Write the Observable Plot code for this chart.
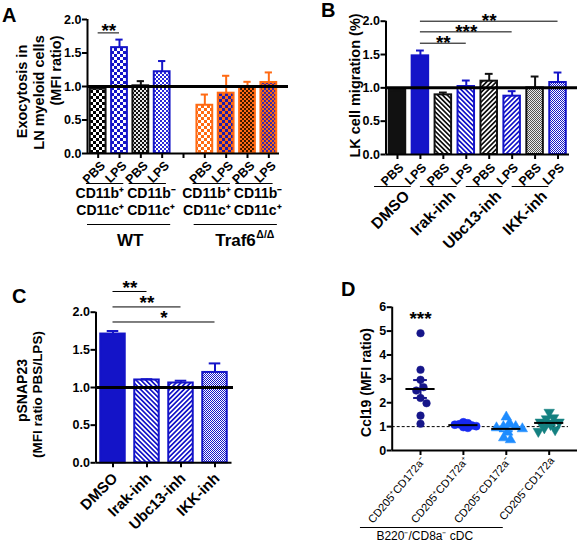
<!DOCTYPE html>
<html><head><meta charset="utf-8">
<script src="https://cdn.jsdelivr.net/npm/d3@7"></script>
<script src="https://cdn.jsdelivr.net/npm/@observablehq/plot@0.6"></script>
<style>
html,body{margin:0;padding:0;background:#fff;}
#fig{position:relative;width:577px;height:544px;overflow:hidden;font-family:'Liberation Sans',Arial,sans-serif;background:#fff;}
#fig .layer{position:absolute;left:0;top:0;width:577px;height:544px;}
#fig .layer svg{display:block;}
#defs{position:absolute;left:0;top:0;width:0;height:0;overflow:hidden;}
.letter{position:absolute;font-weight:bold;font-size:20px;line-height:20px;color:#000;}
</style></head><body>
<div id="fig">
  <div id="defs"></div>
  <div id="pA" class="layer"></div>
  <div id="pB" class="layer"></div>
  <div id="pC" class="layer"></div>
  <div id="pD" class="layer"></div>
  <div class="letter" style="left:2px;top:5px">A</div>
  <div class="letter" style="left:321px;top:0px">B</div>
  <div class="letter" style="left:12px;top:286px">C</div>
  <div class="letter" style="left:341px;top:279px">D</div>
</div>
<script>
// ---------------- DATA ----------------
const ratioTicks = [0, 0.5, 1, 1.5, 2];
const dTicks = [0, 1, 2, 3, 4, 5, 6];

// Panel A
const aLabels = ["PBS", "LPS", "PBS", "LPS", "PBS", "LPS", "PBS", "LPS"];
const aMean = [0.96, 1.58, 1.01, 1.22, 0.72, 0.90, 1.00, 1.06];
const aErr  = [0.02, 0.12, 0.07, 0.16, 0.16, 0.26, 0.07, 0.15];
const aCellTop = ["CD11b⁺", "CD11b⁻", "CD11b⁺", "CD11b⁻"];
const aCellBottom = ["CD11c⁺", "CD11c⁺", "CD11c⁺", "CD11c⁺"];
const aGroups = ["WT", "Traf6"];
const aSig = [{from: 0, to: 1, y: 1.80, label: "**"}];

// Panel B
const bLabels = ["PBS", "LPS", "PBS", "LPS", "PBS", "LPS", "PBS", "LPS"];
const bGroups = ["DMSO", "Irak-inh", "Ubc13-inh", "IKK-inh"];
const bMean = [0.96, 1.48, 0.895, 1.02, 1.10, 0.875, 1.00, 1.08];
const bErr  = [0.01, 0.08, 0.035, 0.09, 0.11, 0.075, 0.17, 0.15];
const bSig = [
  {from: 1, to: 3, y: 1.67, label: "**"},
  {from: 1, to: 5, y: 1.84, label: "***"},
  {from: 1, to: 7, y: 2.00, label: "**"}
];

// Panel C
const cLabels = ["DMSO", "Irak-inh", "Ubc13-inh", "IKK-inh"];
const cMean = [1.71, 1.10, 1.06, 1.20];
const cErr  = [0.04, 0.01, 0.03, 0.12];
const cSig = [
  {from: 0, to: 1, y: 2.275, label: "**"},
  {from: 0, to: 2, y: 2.07, label: "**"},
  {from: 0, to: 3, y: 1.87, label: "*"}
];

// Panel D
const dCats = ["CD205⁺CD172a⁻", "CD205⁺CD172a⁺", "CD205⁻CD172a⁻", "CD205⁻CD172a"];
const dGroup1 = [4.91, 3.38, 2.96, 2.65, 2.51, 2.20, 1.98, 1.46, 1.12];
const dGroup2 = [1.18, 1.14, 1.10, 1.08, 1.05, 1.02, 0.98, 0.95];
const dGroup3 = [1.40, 1.14, 1.00, 1.00, 0.95, 0.91, 0.77, 0.53, 0.45];
const dGroup4 = [1.60, 1.37, 1.33, 1.19, 1.19, 1.09, 0.95, 0.87, 0.80];
const dSig = [{group: 0, y: 5.5, label: "***"}];
const dCaption = "B220⁻/CD8a⁻ cDC";

// ---------------- STYLES ----------------
const W = 577, H = 544;
const FONT = "'Liberation Sans', Arial, Helvetica, sans-serif";
const BLUE = "#1414c8", ORANGE = "#ff6a13", BLACK = "#111111";

function checker(id, c1, c2, s) {
  return `<pattern id="${id}" width="${2*s}" height="${2*s}" patternUnits="userSpaceOnUse">
    <rect width="${2*s}" height="${2*s}" fill="${c2}"/><rect width="${s}" height="${s}" fill="${c1}"/>
    <rect x="${s}" y="${s}" width="${s}" height="${s}" fill="${c1}"/></pattern>`;
}
function stripes(id, c1, c2, p, angle) {
  return `<pattern id="${id}" width="${p}" height="${p}" patternUnits="userSpaceOnUse" patternTransform="rotate(${angle})">
    <rect width="${p}" height="${p}" fill="${c2}"/><rect width="${p/2}" height="${p}" fill="${c1}"/></pattern>`;
}
document.getElementById("defs").innerHTML = `<svg width="1" height="1"><defs>
  ${checker("pa1", "#000", "#fff", 3)}
  ${checker("pa2", BLUE, "#fff", 3)}
  ${checker("pa3", "#111", "#e8e8e8", 2)}
  ${checker("pa4", "#2a2ad8", "#fff", 2)}
  ${checker("pa5", ORANGE, "#fff", 3)}
  ${checker("pa6", "#1c1cb0", ORANGE, 3)}
  ${checker("pa7", "#3a1500", ORANGE, 2)}
  ${checker("pa8", "#3a2aa8", ORANGE, 2)}
  ${stripes("pBk1", "#111", "#fff", 3.4, -45)}
  ${stripes("pBl1", BLUE, "#fff", 3.4, -45)}
  ${stripes("pBk2", "#111", "#fff", 3.4, 45)}
  ${stripes("pBl2", BLUE, "#fff", 3.4, 45)}
  ${checker("pGf", "#555", "#eee", 1)}
  ${checker("pBf", BLUE, "#fff", 1)}
</defs></svg>`;

const aFill = ["url(#pa1)", "url(#pa2)", "url(#pa3)", "url(#pa4)", "url(#pa5)", "url(#pa6)", "url(#pa7)", "url(#pa8)"];
const aStroke = [BLACK, BLUE, BLACK, BLUE, ORANGE, ORANGE, ORANGE, ORANGE];
const bFill = [BLACK, BLUE, "url(#pBk1)", "url(#pBl1)", "url(#pBk2)", "url(#pBl2)", "url(#pGf)", "url(#pBf)"];
const bStroke = [BLACK, BLUE, BLACK, BLUE, BLACK, BLUE, BLACK, BLUE];
const cFill = [BLUE, "url(#pBl1)", "url(#pBl2)", "url(#pBf)"];
const cStroke = [BLUE, BLUE, BLUE, BLUE];
const dColors = ["#16168a", "#1628f0", "#1e8cff", "#148080"];
const dRadius = [3.8, 4, 3.9, 3.9];
const dSpacing = [8, 4.5, 7, 7];

const triangleDown = {
  draw(context, size) {
    const s3 = Math.sqrt(3);
    const y = -Math.sqrt(size / (s3 * 3));
    context.moveTo(0, -y * 2);
    context.lineTo(-s3 * y, y);
    context.lineTo(s3 * y, y);
    context.closePath();
  }
};
const dSymbols = ["circle", "circle", "triangle", triangleDown];

// ---------------- GEOMETRY ----------------
const geoA = {ml: 87, mr: 289, mt: 19, mb: 391, xDom: [-0.5, 8.5], xRange: [87, 279], yDom: [0, 2]};
const geoB = {ml: 385.5, mr: 0, mt: 20.7, mb: 390, xDom: [-0.5, 7.5], xRange: [385.5, 569], yDom: [0, 2]};
const geoC = {ml: 95.5, mr: 344, mt: 311.7, mb: 81.7, xDom: [-0.5, 3.5], xRange: [95.5, 231.5], yDom: [0, 2]};
const geoD = {ml: 391.7, mr: 0, mt: 306.7, mb: 94, xDom: [-0.66, 3.66], xRange: [391.7, 577], yDom: [0, 6]};

function panel(geo, marks) {
  return Plot.plot({
    width: W, height: H,
    marginLeft: geo.ml, marginRight: geo.mr, marginTop: geo.mt, marginBottom: geo.mb,
    x: {type: "linear", domain: geo.xDom, range: geo.xRange},
    y: {type: "linear", domain: geo.yDom},
    color: {type: "identity"},
    style: {fontFamily: FONT, fontWeight: "bold", fontSize: "12.5px", background: "transparent", overflow: "visible", color: "#000"},
    marks
  });
}
function gText(txt, gx, gy, geo, o = {}) {
  return Plot.text([txt], {text: d => d, frameAnchor: "top-left", dx: gx - geo.ml, dy: gy - geo.mt,
    textAnchor: "middle", lineAnchor: "middle", ...o});
}
function axes(geo, ticks, fmt, xt) {
  return [
    Plot.ruleX([geo.xDom[0]], {y1: geo.yDom[0], y2: geo.yDom[1], strokeWidth: 2}),
    Plot.ruleY([geo.yDom[0]], {x1: geo.xDom[0], x2: geo.xDom[1], strokeWidth: 2}),
    Plot.axisY({ticks, tickFormat: fmt, tickSize: 5, tickPadding: 1, strokeWidth: 2, fontSize: 12.5, fontWeight: "bold", label: null}),
    Plot.axisX({ticks: xt, tickFormat: () => "", tickSize: 5, strokeWidth: 2, label: null})
  ];
}
function barMarks(rows, halfW, capW) {
  return [
    Plot.rectY(rows, {x1: d => d.pos - halfW, x2: d => d.pos + halfW, y1: 0, y2: "mean", fill: "fill", stroke: "stroke", strokeWidth: 2}),
    Plot.ruleX(rows, {x: "pos", y1: "mean", y2: d => d.mean + d.err, stroke: "stroke", strokeWidth: 2}),
    Plot.ruleY(rows, {y: d => d.mean + d.err, x1: d => d.pos - capW, x2: d => d.pos + capW, stroke: "stroke", strokeWidth: 2})
  ];
}
function sigMarks(sig, pos, dy) {
  return [
    Plot.ruleY(sig, {y: "y", x1: d => pos[d.from], x2: d => pos[d.to], stroke: "#000", strokeWidth: 1}),
    Plot.text(sig, {x: d => (pos[d.from] + pos[d.to]) / 2, y: "y", text: "label", lineAnchor: "bottom", textAnchor: "middle", dy, fontSize: 19, fontWeight: "bold"})
  ];
}

// ---------------- PANEL A ----------------
{
  const pos = aMean.map((_, i) => i < 4 ? i : i + 1);
  const rows = aMean.map((m, i) => ({pos: pos[i], mean: m, err: aErr[i], fill: aFill[i], stroke: aStroke[i], label: aLabels[i]}));
  const pairs = d3.range(4).map(k => ({a: pos[2*k], b: pos[2*k+1], top: aCellTop[k], bottom: aCellBottom[k]}));
  const groups = aGroups.map((g, k) => ({first: pos[4*k], last: pos[4*k+3], name: g}));
  const chart = panel(geoA, [
    ...barMarks(rows, 0.37, 0.17),
    Plot.ruleY([1], {strokeWidth: 3}),
    ...axes(geoA, ratioTicks, d3.format(".1f"), d3.range(9)),
    ...sigMarks(aSig, pos, 4),
    Plot.text(rows, {x: "pos", text: "label", frameAnchor: "bottom", rotate: -45, textAnchor: "end", lineAnchor: "middle", dx: 5, dy: 10, fontSize: 12.5}),
    Plot.ruleY(pairs, {y: () => 0, x1: d => d.a - 0.55, x2: d => d.b + 0.2, dy: 30, strokeWidth: 1}),
    Plot.text(pairs.filter((d, k) => k % 2 === 0), {x: d => d.b + 0.5, text: "top", frameAnchor: "bottom", textAnchor: "end", lineAnchor: "middle", dx: -6, dy: 40, fontSize: 14}),
    Plot.text(pairs.filter((d, k) => k % 2 === 0), {x: d => d.b + 0.5, text: "bottom", frameAnchor: "bottom", textAnchor: "end", lineAnchor: "middle", dx: -6, dy: 57, fontSize: 14}),
    Plot.text(pairs.filter((d, k) => k % 2 === 1), {x: d => d.a - 0.5, text: "top", frameAnchor: "bottom", textAnchor: "start", lineAnchor: "middle", dx: -3, dy: 40, fontSize: 14}),
    Plot.text(pairs.filter((d, k) => k % 2 === 1), {x: d => d.a - 0.5, text: "bottom", frameAnchor: "bottom", textAnchor: "start", lineAnchor: "middle", dx: -3, dy: 57, fontSize: 14}),
    Plot.ruleY(groups, {y: () => 0, x1: d => d.first - 0.5, x2: d => d.last + 0.4, dy: 71, strokeWidth: 1}),
    Plot.text(groups.slice(0, 1), {x: d => (d.first + d.last) / 2, text: "name", frameAnchor: "bottom", textAnchor: "middle", lineAnchor: "middle", dy: 87, fontSize: 17}),
    Plot.text(groups.slice(1), {x: d => (d.first + d.last) / 2, text: "name", frameAnchor: "bottom", textAnchor: "end", lineAnchor: "middle", dx: 19, dy: 87, fontSize: 17}),
    Plot.text(groups.slice(1), {x: d => (d.first + d.last) / 2, text: () => "Δ/Δ", frameAnchor: "bottom", textAnchor: "start", lineAnchor: "middle", dx: 19.5, dy: 81, fontSize: 10.5}),
    gText("Exocytosis in", 21.5, 91, geoA, {rotate: -90, fontSize: 14.5}),
    gText("LN myeloid cells", 38.5, 92, geoA, {rotate: -90, fontSize: 14.5}),
    gText("(MFI ratio)", 56, 70, geoA, {rotate: -90, fontSize: 14.5})
  ]);
  document.getElementById("pA").append(chart);
}

// ---------------- PANEL B ----------------
{
  const pos = bMean.map((_, i) => i);
  const rows = bMean.map((m, i) => ({pos: pos[i], mean: m, err: bErr[i], fill: bFill[i], stroke: bStroke[i], label: bLabels[i]}));
  const pairs = bGroups.map((g, k) => ({a: pos[2*k], b: pos[2*k+1], name: g}));
  const chart = panel(geoB, [
    ...barMarks(rows, 0.36, 0.17),
    Plot.ruleY([1], {strokeWidth: 3}),
    ...axes(geoB, ratioTicks, d3.format(".1f"), pos),
    ...sigMarks(bSig, pos, 6),
    Plot.text(rows, {x: "pos", text: "label", frameAnchor: "bottom", rotate: -45, textAnchor: "end", lineAnchor: "middle", dx: 4, dy: 11, fontSize: 12.5}),
    Plot.ruleY(pairs, {y: () => 0, x1: d => d.a - 1.0, x2: d => d.b - 0.4, dy: 32, strokeWidth: 1}),
    Plot.text(pairs, {x: d => (d.a + d.b) / 2, text: "name", frameAnchor: "bottom", rotate: -45, textAnchor: "end", lineAnchor: "middle", dx: -2, dy: 39, fontSize: 15.5}),
    gText("LK cell migration (%)", 355, 85, geoB, {rotate: -90, fontSize: 14.5})
  ]);
  document.getElementById("pB").append(chart);
}

// ---------------- PANEL C ----------------
{
  const pos = cMean.map((_, i) => i);
  const rows = cMean.map((m, i) => ({pos: pos[i], mean: m, err: cErr[i], fill: cFill[i], stroke: cStroke[i], label: cLabels[i]}));
  const chart = panel(geoC, [
    ...barMarks(rows, 0.36, 0.17),
    Plot.ruleY([1], {strokeWidth: 3}),
    ...axes(geoC, ratioTicks, d3.format(".1f"), pos),
    ...sigMarks(cSig, pos, 2.5),
    Plot.text(rows, {x: "pos", text: "label", frameAnchor: "bottom", rotate: -45, textAnchor: "end", lineAnchor: "middle", dx: 2, dy: 13, fontSize: 15}),
    gText("pSNAP23", 22, 390, geoC, {rotate: -90, fontSize: 14}),
    gText("(MFI ratio PBS/LPS)", 37.5, 394, geoC, {rotate: -90, fontSize: 13.5})
  ]);
  document.getElementById("pC").append(chart);
}

// ---------------- PANEL D ----------------
{
  const groups = [dGroup1, dGroup2, dGroup3, dGroup4];
  const pxPerY = (H - geoD.mb - geoD.mt) / (geoD.yDom[1] - geoD.yDom[0]);
  const pxPerX = (geoD.xRange[1] - geoD.xRange[0]) / (geoD.xDom[1] - geoD.xDom[0]);
  // beeswarm layout (horizontal spread so markers do not pile up)
  function swarm(values, D) {
    const order = d3.range(values.length).sort((a, b) => values[b] - values[a]);
    const placed = [], out = new Array(values.length);
    for (const i of order) {
      const y = values[i] * pxPerY;
      const cands = [0];
      for (const p of placed) {
        const dy = Math.abs(p.y - y);
        if (dy < D) { const dx = Math.sqrt(D * D - dy * dy); cands.push(p.x + dx, p.x - dx); }
      }
      cands.sort((a, b) => Math.abs(a) - Math.abs(b));
      const x = cands.find(c => placed.every(p => Math.hypot(p.x - c, p.y - y) >= D - 1e-6));
      placed.push({x, y}); out[i] = x;
    }
    return out;
  }
  const points = groups.map((vals, g) => {
    const off = swarm(vals, dSpacing[g]);
    return vals.map((v, i) => ({g, v, x: g + off[i] / pxPerX}));
  });
  const stats = groups.map((vals, g) => {
    const mean = d3.mean(vals), sem = d3.deviation(vals) / Math.sqrt(vals.length);
    return {g, mean, lo: mean - sem, hi: mean + sem, color: dColors[g]};
  });
  const chart = panel(geoD, [
    Plot.ruleY([1], {x1: geoD.xDom[0], x2: 3.45, strokeWidth: 1, strokeDasharray: "3,2"}),
    ...points.map((pts, g) => Plot.dot(pts, {x: "x", y: "v", r: dRadius[g], symbol: dSymbols[g], fill: dColors[g], stroke: dColors[g], strokeWidth: 0.5})),
    Plot.ruleX(stats, {x: "g", y1: "lo", y2: "hi", stroke: "color", strokeWidth: 2}),
    Plot.ruleY(stats, {y: "lo", x1: d => d.g - 0.16, x2: d => d.g + 0.16, stroke: "color", strokeWidth: 2}),
    Plot.ruleY(stats, {y: "hi", x1: d => d.g - 0.16, x2: d => d.g + 0.16, stroke: "color", strokeWidth: 2}),
    Plot.ruleY(stats, {y: "mean", x1: d => d.g - 0.34, x2: d => d.g + 0.34, stroke: "#000", strokeWidth: 2}),
    ...axes(geoD, dTicks, d3.format("d"), d3.range(4)),
    Plot.text(dSig, {x: "group", y: "y", text: "label", textAnchor: "middle", lineAnchor: "middle", fontSize: 19}),
    Plot.text(dCats, {x: (d, i) => i, text: d => d, frameAnchor: "bottom", rotate: -50, textAnchor: "end", lineAnchor: "middle", dx: 3, dy: 8, fontSize: 11, fontWeight: "normal"}),
    Plot.ruleY([0], {x1: -1.4, x2: 1.93, dy: 77, strokeWidth: 1}),
    Plot.text([dCaption], {x: 0.1, text: d => d, frameAnchor: "bottom", textAnchor: "middle", lineAnchor: "middle", dy: 86, fontSize: 12, fontWeight: "normal"}),
    gText("Ccl19 (MFI ratio)", 366.5, 382, geoD, {rotate: -90, fontSize: 14})
  ]);
  document.getElementById("pD").append(chart);
}
</script>
</body></html>
